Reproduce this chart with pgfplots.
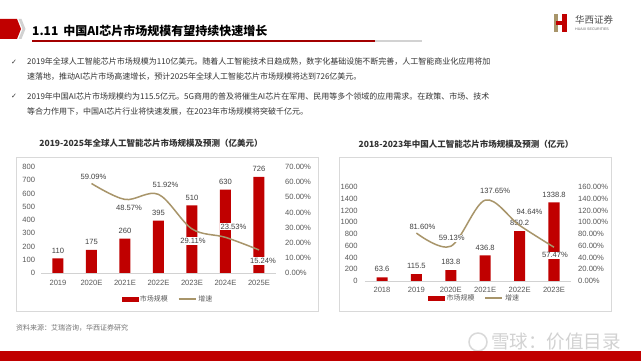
\documentclass[border=0pt]{standalone}
\usepackage{pgfplots}
\pgfplotsset{compat=1.18}
\usepackage{fontspec}
\setmainfont{Liberation Sans}
\newfontfamily\cjk{Noto Sans CJK SC}
\newfontfamily\sym{DejaVu Sans}
\definecolor{barred}{HTML}{C00000}
\definecolor{linetan}{HTML}{A8956A}
\definecolor{tickgray}{HTML}{595959}
\definecolor{bodytext}{HTML}{333333}
\pgfkeys{/pgf/number format/1000 sep={}}
\pgfplotsset{
  chartbase/.style={
    scale only axis, anchor=south west, clip=false,
    major tick length=0pt,
    tick label style={font=\fontsize{7.6}{8}\selectfont, text=tickgray},
    /pgf/number format/assume math mode=true,
    /pgf/number format/1000 sep={},
  },
  linelabels/.style={
    draw=none, mark=none, forget plot,
    nodes near coords={\pgfplotspointmeta\%},
    point meta=explicit symbolic,
    visualization depends on={\thisrow{dx} \as \dx},
    visualization depends on={\thisrow{dy} \as \dy},
    every node near coord/.style={fill=white, inner sep=1pt, anchor=center,
      xshift=\dx pt, yshift=\dy pt, font=\fontsize{7.6}{8}\selectfont, text=black!75},
  },
}
\begin{document}
\begin{tikzpicture}[x=1pt,y=1pt]
\useasboundingbox (0,0) rectangle (641,361);
\fill[white] (0,0) rectangle (641,361);
% header
\fill[barred] (0,342) -- (17,342) -- (21,332) -- (17,322) -- (0,322) -- cycle;
\fill[gray!35] (18.5,342) -- (21.5,342) -- (25.5,332) -- (21.5,322) -- (18.5,322) -- (22.5,332) -- cycle;
\node[anchor=west, inner sep=0pt] at (32,330) {\cjk\bfseries\fontsize{12}{12}\selectfont 1.11\hspace{5pt}中国AI芯片市场规模有望持续快速增长};
\draw[barred!85!black, line width=1.2pt] (32,320) -- (375,320);
\draw[gray!35, line width=1.2pt] (375,320) -- (422,320);
% logo
\fill[linetan] (554,329) rectangle (558,347);
\fill[barred] (562,329) rectangle (567,347);
\fill[barred] (556,336) rectangle (567,339.5);
\node[anchor=west, inner sep=0pt, text=black!70] at (575,341) {\cjk\fontsize{9.5}{9.5}\selectfont 华西证券};
\node[anchor=west, inner sep=0pt, text=black!60] at (575,332) {\fontsize{3.6}{4}\selectfont HUAXI SECURITIES};
% bullets
\begin{scope}[every node/.style={anchor=west, inner sep=0pt, text=bodytext}]
\node at (11,299) {\sym\fontsize{7}{7}\selectfont ✓};
\node at (11,265) {\sym\fontsize{7}{7}\selectfont ✓};
\node at (27,299) {\cjk\fontsize{8}{8}\selectfont 2019年全球人工智能芯片市场规模为110亿美元。随着人工智能技术日趋成熟，数字化基础设施不断完善，人工智能商业化应用将加};
\node at (27,284) {\cjk\fontsize{8}{8}\selectfont 速落地，推动AI芯片市场高速增长，预计2025年全球人工智能芯片市场规模将达到726亿美元。};
\node at (27,265) {\cjk\fontsize{8}{8}\selectfont 2019年中国AI芯片市场规模约为115.5亿元。5G商用的普及将催生AI芯片在军用、民用等多个领域的应用需求。在政策、市场、技术};
\node at (27,249) {\cjk\fontsize{8}{8}\selectfont 等合力作用下，中国AI芯片行业将快速发展，在2023年市场规模将突破千亿元。};
\end{scope}
% frames and titles
\draw[gray!30] (16,204) rectangle (318,50);
\draw[gray!30] (339,204) rectangle (611,50);
\node[text=black!80] at (151,218) {\cjk\bfseries\fontsize{8.5}{8.5}\selectfont 2019-2025年全球人工智能芯片市场规模及预测（亿美元）};
\node[text=black!80] at (466,217) {\cjk\bfseries\fontsize{8.5}{8.5}\selectfont 2018-2023年中国人工智能芯片市场规模及预测（亿元）};
% source, watermark, footer
\node[anchor=west, inner sep=0pt, text=black!55] at (16,33) {\cjk\fontsize{7}{7}\selectfont 资料来源：艾瑞咨询，华西证券研究};
\draw[gray!30, line width=1.5pt] (478,19) circle (9);
\node[anchor=west, inner sep=0pt, text=gray!35] at (491,19) {\cjk\fontsize{18.5}{18.5}\selectfont 雪球：价值目录};
\fill[barred] (0,0) rectangle (641,9.5);

% ===== Left chart =====
\begin{axis}[chartbase, at={(41.25pt,88pt)}, width=234.5pt, height=106pt,
  xmin=-0.5, xmax=6.5, ymin=0, ymax=800,
  axis lines*=left, axis line style={-}, y axis line style={draw=none}, x axis line style={draw=gray!35},
  xtick={0,...,6}, xticklabels={2019,2020E,2021E,2022E,2023E,2024E,2025E},
  ytick={0,100,...,800},
  yticklabel style={anchor=east, inner sep=0pt, xshift=-6pt},
  xticklabel style={anchor=north, inner sep=0pt, yshift=-7pt},
  ybar, bar width=11pt,
  nodes near coords,
  every node near coord/.append style={font=\fontsize{7.6}{8}\selectfont, text=black!75, inner sep=0pt, yshift=5pt},
]
\addplot[fill=barred, draw=none] coordinates {(0,110) (1,175) (2,260) (3,395) (4,510) (5,630) (6,726)};
\end{axis}
\begin{axis}[chartbase, at={(41.25pt,88pt)}, width=234.5pt, height=106pt,
  xmin=-0.5, xmax=6.5, ymin=0, ymax=70,
  axis x line=none, axis y line*=right, axis line style={draw=none},
  ytick={0,10,...,70},
  yticklabels={0.00\%,10.00\%,20.00\%,30.00\%,40.00\%,50.00\%,60.00\%,70.00\%},
  yticklabel style={anchor=west, inner sep=0pt, xshift=9.25pt},
  legend style={at={(0.5405,-0.245)}, anchor=center, draw=none, fill=none,
    legend columns=2, font=\cjk\fontsize{7}{8}\selectfont, text=tickgray,
    /tikz/every even column/.append style={column sep=8pt}},
]
\addlegendimage{legend image code/.code={\fill[barred] (0pt,-2pt) rectangle (16pt,2pt);}}
\addlegendentry{市场规模}
\addlegendimage{linetan, line width=1.5pt}
\addlegendentry{增速}
\addplot[linetan, line width=1.5pt, smooth, tension=0.55, forget plot] coordinates {(1,59.09) (2,48.57) (3,51.92) (4,29.11) (5,23.53) (6,15.24)};
\addplot[linelabels] table[x=x, y=y, meta=lab] {
x y lab dx dy
1 59.09 59.09 2 6.5
2 48.57 48.57 4 -8
3 51.92 51.92 7 9.7
4 29.11 29.11 1 -12
5 23.53 23.53 8 10.7
6 15.24 15.24 4 -11
};
\end{axis}

% ===== Right chart =====
\begin{axis}[chartbase, at={(364.8pt,80pt)}, width=206.4pt, height=94pt,
  xmin=-0.5, xmax=5.5, ymin=0, ymax=1600,
  axis lines*=left, axis line style={-}, y axis line style={draw=none}, x axis line style={draw=gray!35},
  xtick={0,...,5}, xticklabels={2018,2019,2020E,2021E,2022E,2023E},
  ytick={0,200,...,1600},
  yticklabel style={anchor=east, inner sep=0pt, xshift=-7pt},
  xticklabel style={anchor=north, inner sep=0pt, yshift=-6.3pt},
  ybar, bar width=11pt,
  nodes near coords,
  every node near coord/.append style={font=\fontsize{7.6}{8}\selectfont, text=black!75, inner sep=0pt, yshift=5pt},
]
\addplot[fill=barred, draw=none] coordinates {(0,63.6) (1,115.5) (2,183.8) (3,436.8) (4,850.2) (5,1338.8)};
\end{axis}
\begin{axis}[chartbase, at={(364.8pt,80pt)}, width=206.4pt, height=94pt,
  xmin=-0.5, xmax=5.5, ymin=0, ymax=160,
  axis x line=none, axis y line*=right, axis line style={draw=none},
  ytick={0,20,...,160},
  yticklabels={0.00\%,20.00\%,40.00\%,60.00\%,80.00\%,100.00\%,120.00\%,140.00\%,160.00\%},
  yticklabel style={anchor=west, inner sep=0pt, xshift=6.8pt},
  legend style={at={(0.532,-0.18)}, anchor=center, draw=none, fill=none,
    legend columns=2, font=\cjk\fontsize{7}{8}\selectfont, text=tickgray,
    /tikz/every even column/.append style={column sep=8pt}},
]
\addlegendimage{legend image code/.code={\fill[barred] (0pt,-2pt) rectangle (16pt,2pt);}}
\addlegendentry{市场规模}
\addlegendimage{linetan, line width=1.5pt}
\addlegendentry{增速}
\addplot[linetan, line width=1.5pt, smooth, tension=0.55, forget plot] coordinates {(1,81.60) (2,59.13) (3,137.65) (4,94.64) (5,57.47)};
\addplot[linelabels] table[x=x, y=y, meta=lab] {
x y lab dx dy
1 81.60 81.60 6 6
2 59.13 59.13 1 8
3 137.65 137.65 10 9
4 94.64 94.64 10 14
5 57.47 57.47 1 -8
};
\end{axis}
\end{tikzpicture}
\end{document}
